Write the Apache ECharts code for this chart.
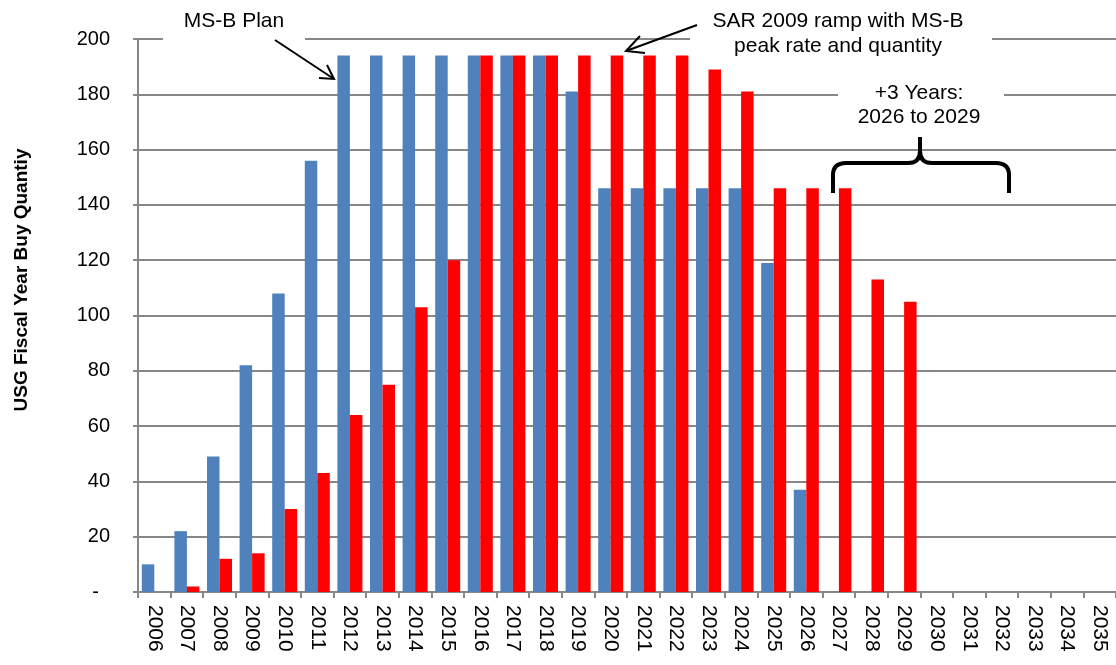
<!DOCTYPE html>
<html>
<head>
<meta charset="utf-8">
<script src="https://cdn.jsdelivr.net/npm/echarts@6/dist/echarts.min.js"></script>
<style>
  html, body { margin: 0; padding: 0; background: #fff; }
  #chart { width: 1116px; height: 665px; }
</style>
</head>
<body>
<div id="chart"></div>
<script>
// Fiscal years on the category axis
const years = ['2006','2007','2008','2009','2010','2011','2012','2013','2014','2015',
  '2016','2017','2018','2019','2020','2021','2022','2023','2024','2025',
  '2026','2027','2028','2029','2030','2031','2032','2033','2034','2035'];

// MS-B Plan buy quantities
const msbPlan = [10, 22, 49, 82, 108, 156, 194, 194, 194, 194,
  194, 194, 194, 181, 146, 146, 146, 146, 146, 119,
  37, 0, 0, 0, 0, 0, 0, 0, 0, 0];

// SAR 2009 ramp with MS-B peak rate and quantity
const sarRamp = [0, 2, 12, 14, 30, 43, 64, 75, 103, 120,
  194, 194, 194, 194, 194, 194, 194, 189, 181, 146,
  146, 146, 113, 105, 0, 0, 0, 0, 0, 0];

const yTicks = { min: 0, max: 200, interval: 20 };

const FONT = '"Liberation Sans", Arial, sans-serif';
const GRID_GREY = '#878787';

const chart = echarts.init(document.getElementById('chart'), null, { renderer: 'canvas' });

const blackLine = (w) => ({ stroke: '#000', lineWidth: w, fill: null });

// curly brace spanning the added years
const braceStyle = blackLine(4);
const brace = [
  { type: 'line', z: 100, shape: { x1: 833, y1: 193, x2: 833, y2: 175 }, style: braceStyle },
  { type: 'bezierCurve', z: 100, shape: { x1: 833, y1: 175, cpx1: 833, cpy1: 163, x2: 846, y2: 163 }, style: braceStyle },
  { type: 'line', z: 100, shape: { x1: 846, y1: 163, x2: 908, y2: 163 }, style: braceStyle },
  { type: 'bezierCurve', z: 100, shape: { x1: 908, y1: 163, cpx1: 920, cpy1: 163, x2: 920, y2: 151 }, style: braceStyle },
  { type: 'line', z: 100, shape: { x1: 920, y1: 151, x2: 920, y2: 137 }, style: braceStyle },
  { type: 'bezierCurve', z: 100, shape: { x1: 920, y1: 151, cpx1: 920, cpy1: 163, x2: 932, y2: 163 }, style: braceStyle },
  { type: 'line', z: 100, shape: { x1: 932, y1: 163, x2: 996, y2: 163 }, style: braceStyle },
  { type: 'bezierCurve', z: 100, shape: { x1: 996, y1: 163, cpx1: 1009, cpy1: 163, x2: 1009, y2: 175 }, style: braceStyle },
  { type: 'line', z: 100, shape: { x1: 1009, y1: 175, x2: 1009, y2: 193 }, style: braceStyle }
];

const option = {
  backgroundColor: '#ffffff',
  animation: false,
  grid: { left: 138, top: 39, width: 983, height: 553, containLabel: false },
  xAxis: {
    type: 'category',
    data: years,
    boundaryGap: true,
    axisLine: { show: true, lineStyle: { color: GRID_GREY, width: 2 } },
    axisTick: { show: true, length: 6, lineStyle: { color: GRID_GREY, width: 2 } },
    axisLabel: {
      rotate: -90, margin: 13, interval: 0,
      color: '#000', fontSize: 21, fontFamily: FONT
    },
    splitLine: { show: false }
  },
  yAxis: {
    type: 'value',
    min: yTicks.min, max: yTicks.max, interval: yTicks.interval,
    axisLine: { show: true, lineStyle: { color: GRID_GREY, width: 2 } },
    axisTick: { show: true, inside: false, length: 5, lineStyle: { color: GRID_GREY, width: 2 } },
    axisLabel: {
      margin: 28, color: '#000', fontSize: 20, fontFamily: FONT,
      formatter: v => (v === 0 ? '-  ' : String(v))
    },
    splitLine: { show: true, lineStyle: { color: GRID_GREY, width: 2 } }
  },
  series: [
    {
      name: 'MS-B Plan', type: 'bar', data: msbPlan,
      barWidth: 12.5, barGap: '0%',
      itemStyle: { color: '#4F81BD' }
    },
    {
      name: 'SAR 2009 ramp', type: 'bar', data: sarRamp,
      barWidth: 12.5, barGap: '0%',
      itemStyle: { color: '#FF0000' }
    }
  ],
  graphic: [
    // axis title
    {
      type: 'text', x: 22, y: 280, rotation: Math.PI / 2, z: 100,
      style: { text: 'USG Fiscal Year Buy Quantiy', font: 'bold 19px ' + FONT,
        fill: '#000', textAlign: 'center', textVerticalAlign: 'middle' }
    },
    // white backing boxes behind the callouts
    { type: 'rect', z: 90, shape: { x: 163, y: 0, width: 142, height: 48 }, style: { fill: '#fff' } },
    { type: 'rect', z: 90, shape: { x: 690, y: 0, width: 302, height: 52 }, style: { fill: '#fff' } },
    { type: 'rect', z: 90, shape: { x: 838, y: 78, width: 166, height: 50 }, style: { fill: '#fff' } },

    // MS-B Plan callout
    {
      type: 'text', x: 234, y: 21, z: 100,
      style: { text: 'MS-B Plan', font: '21px ' + FONT, fill: '#000',
        textAlign: 'center', textVerticalAlign: 'middle' }
    },
    { type: 'line', z: 100, shape: { x1: 275, y1: 40, x2: 334, y2: 79 }, style: blackLine(2) },
    { type: 'polyline', z: 100, shape: { points: [[319, 78], [334, 79], [327, 65]] }, style: blackLine(2) },

    // SAR ramp callout
    {
      type: 'text', x: 838, y: 21, z: 100,
      style: { text: 'SAR 2009 ramp with MS-B', font: '21px ' + FONT, fill: '#000',
        textAlign: 'center', textVerticalAlign: 'middle' }
    },
    {
      type: 'text', x: 838, y: 46, z: 100,
      style: { text: 'peak rate and quantity', font: '21px ' + FONT, fill: '#000',
        textAlign: 'center', textVerticalAlign: 'middle' }
    },
    { type: 'line', z: 100, shape: { x1: 697, y1: 25, x2: 626, y2: 51 }, style: blackLine(2) },
    { type: 'polyline', z: 100, shape: { points: [[640, 36], [626, 51], [645, 53]] }, style: blackLine(2) },

    // +3 years brace callout
    {
      type: 'text', x: 919, y: 93, z: 100,
      style: { text: '+3 Years:', font: '21px ' + FONT, fill: '#000',
        textAlign: 'center', textVerticalAlign: 'middle' }
    },
    {
      type: 'text', x: 919, y: 117, z: 100,
      style: { text: '2026 to 2029', font: '21px ' + FONT, fill: '#000',
        textAlign: 'center', textVerticalAlign: 'middle' }
    }
  ].concat(brace)
};

chart.setOption(option);
</script>
</body>
</html>
